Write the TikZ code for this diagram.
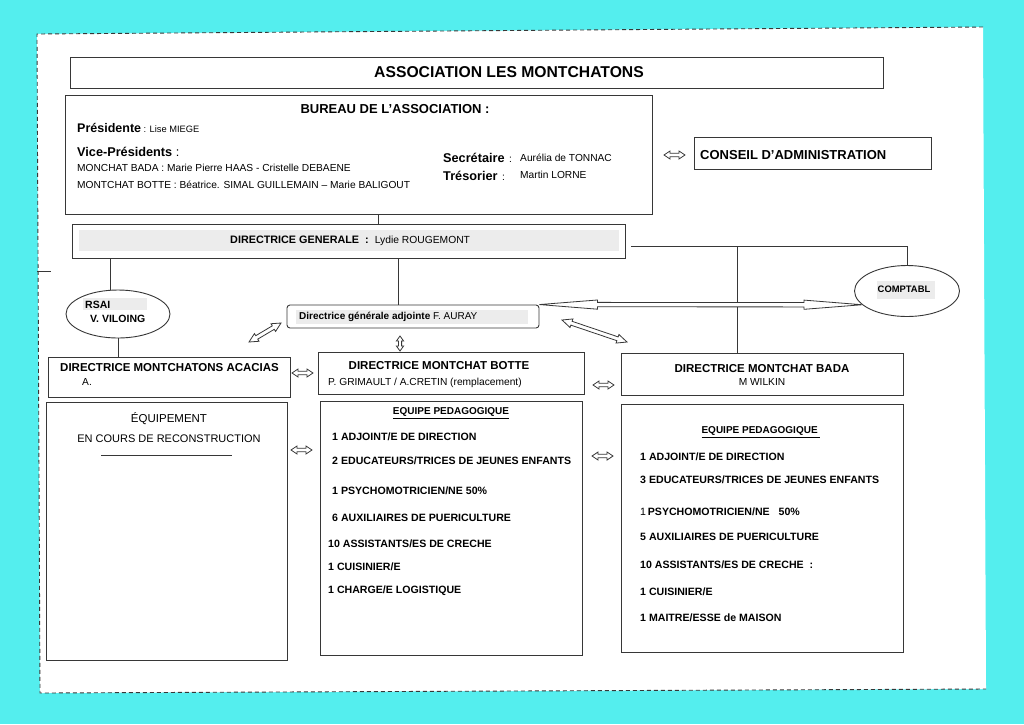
\documentclass[tikz,border=0pt]{standalone}
\usepackage{fontspec}
\setmainfont{Liberation Sans}
\usetikzlibrary{calc,shapes.geometric}
\definecolor{bgcyan}{RGB}{84,238,238}
\definecolor{linec}{RGB}{55,55,55}
\definecolor{hl}{RGB}{236,236,236}
\newcommand\fsz[1]{\fontsize{#1}{#1}\selectfont}
% hollow double block arrow: start, end, shaft half width, head half width, head length
\newcommand\hollowarrow[5]{%
  \path (#1) coordinate (ha-s) (#2) coordinate (ha-e);
  \path ($(ha-s)!#5!(ha-e)$) coordinate (ha-h1) ($(ha-e)!#5!(ha-s)$) coordinate (ha-h2);
  \draw[arrowline] (ha-s) -- ($(ha-h1)!#4!90:(ha-e)$) -- ($(ha-h1)!#3!90:(ha-e)$)
    -- ($(ha-h2)!#3!-90:(ha-s)$) -- ($(ha-h2)!#4!-90:(ha-s)$) -- (ha-e)
    -- ($(ha-h2)!#4!90:(ha-s)$) -- ($(ha-h2)!#3!90:(ha-s)$)
    -- ($(ha-h1)!#3!-90:(ha-e)$) -- ($(ha-h1)!#4!-90:(ha-e)$) -- cycle;}
\begin{document}
\begin{tikzpicture}[x=1pt,y=-1pt,
  box/.style={draw=linec, line width=0.9pt, rectangle, inner sep=0pt},
  oval/.style={draw=linec, line width=0.9pt, ellipse, inner sep=0pt},
  conn/.style={draw=linec, line width=0.9pt},
  arrowline/.style={draw=linec, line width=0.8pt, line join=miter, fill=white},
  paperdash/.style={draw=linec, line width=0.9pt, dash pattern=on 4pt off 3pt},
  txt/.style={inner sep=0pt, anchor=west, text=black},
  ctxt/.style={inner sep=0pt, anchor=center, text=black},
  ttl/.style={font=\bfseries\fsz{15.7}},
  hd/.style={font=\bfseries\fsz{13}},
  lbl/.style={font=\bfseries\fsz{11.5}},
  item/.style={font=\bfseries\fsz{10.6}},
  reg/.style={font=\fsz{10.2}},
]
% background and paper
\fill[bgcyan] (0,0) rectangle (1024,724);
\fill[white] (37,34) -- (983,27) -- (986,689) -- (40,693) -- cycle;
\draw[paperdash] (983,27) -- (37,34) -- (40,693) -- (986,689);
\draw[conn] (37,271) -- (51,271);

% ---------- boxes ----------
\node[box, minimum width=813pt, minimum height=31pt] (title) at (476.5,73) {};
\node[box, minimum width=587pt, minimum height=119pt] (bureau) at (358.5,154.5) {};
\node[box, minimum width=237pt, minimum height=32pt] (conseil) at (812.5,153) {};
\node[box, minimum width=553pt, minimum height=34pt] (dg) at (348.5,241) {};
\node[oval, minimum width=105pt, minimum height=51pt] (comptabl) at (907,291) {};
\node[oval, minimum width=104pt, minimum height=48pt] (rsai) at (118,314) {};
\node[box, rounded corners=3pt, minimum width=252pt, minimum height=23pt] (dga) at (413,316.5) {};
\node[box, minimum width=242pt, minimum height=40pt] (acacias) at (169,377) {};
\node[box, minimum width=266pt, minimum height=42pt] (botte) at (451,373) {};
\node[box, minimum width=282pt, minimum height=42pt] (bada) at (762,374) {};
\node[box, minimum width=241pt, minimum height=258pt] (equip) at (166.5,531) {};
\node[box, minimum width=262pt, minimum height=254pt] (eqbotte) at (451,528) {};
\node[box, minimum width=282pt, minimum height=248pt] (eqbada) at (762,528) {};

% grey highlight bands
\fill[hl] (79,230) rectangle (619,251);
\fill[hl] (83,298) rectangle (147,310);
\fill[hl] (877,281) rectangle (935,299);
\fill[hl] (296,310) rectangle (528,324);

% ---------- texts ----------
\node[ctxt, ttl] (t-title) at (509,72) {ASSOCIATION LES MONTCHATONS};
\node[ctxt, hd] (t-bureau) at (395,109) {BUREAU DE L’ASSOCIATION :};
\node[txt] (t-pres) at (77,128) {\bfseries\fsz{12.5}Présidente\fsz{9.3}\mdseries{} : Lise MIEGE};
\node[txt] (t-vice) at (77,152) {\bfseries\fsz{12.7}Vice-Présidents\mdseries{} :};
\node[txt, reg] (t-bada) at (77,168) {MONCHAT BADA : Marie Pierre HAAS - Cristelle DEBAENE};
\node[txt, reg] (t-botte) at (77,185) {MONTCHAT BOTTE : Béatrice. SIMAL GUILLEMAIN – Marie BALIGOUT};
\node[txt] (t-secr) at (443,158) {\bfseries\fsz{12.7}Secrétaire\fsz{10.2}\mdseries{} \,:};
\node[txt, reg] (t-secrn) at (520,158) {Aurélia de TONNAC};
\node[txt] (t-tres) at (443,176) {\bfseries\fsz{12.7}Trésorier\fsz{10.2}\mdseries{} \,:};
\node[txt, reg] (t-tresn) at (520,175) {Martin LORNE};
\node[txt, hd] (t-conseil) at (700,155) {CONSEIL D’ADMINISTRATION};
\node[txt] (t-dg) at (230,241) {\bfseries\fsz{10.8}DIRECTRICE GENERALE~~:~~\mdseries\fsz{10.3}Lydie ROUGEMONT};
\node[ctxt, font=\bfseries\fsz{9.4}] (t-comptabl) at (904,289) {COMPTABL};
\node[txt, font=\bfseries\fsz{10.5}] (t-rsai1) at (85,305) {RSAI};
\node[txt, font=\bfseries\fsz{10.5}] (t-rsai2) at (90,319) {V. VILOING};
\node[txt] (t-dga) at (299,317) {\bfseries\fsz{10}Directrice générale adjointe \mdseries F. AURAY};
\node[txt, lbl] (t-acacias) at (60,368) {DIRECTRICE MONTCHATONS ACACIAS};
\node[txt, reg] (t-acacias2) at (82,382) {A.};
\node[ctxt, lbl] (t-botte1) at (439,366) {DIRECTRICE MONTCHAT BOTTE};
\node[txt, reg] (t-botte2) at (328,383) {P. GRIMAULT / A.CRETIN (remplacement)};
\node[ctxt, lbl] (t-bada1) at (762,369) {DIRECTRICE MONTCHAT BADA};
\node[ctxt, reg] (t-bada2) at (762,382) {M WILKIN};
\node[ctxt, font=\fsz{11.5}] (t-eq1) at (169,419) {ÉQUIPEMENT};
\node[ctxt, font=\fsz{11}] (t-eq2) at (169,439) {EN COURS DE RECONSTRUCTION};
\draw[conn] (101,455) -- (232,455);

\node[ctxt, font=\bfseries\fsz{10}] (t-epb) at (451,413) {\underline{EQUIPE PEDAGOGIQUE}};
\node[txt, item] (b1) at (332,437) {1 ADJOINT/E DE DIRECTION};
\node[txt, item] (b2) at (332,461) {2 EDUCATEURS/TRICES DE JEUNES ENFANTS};
\node[txt, item] (b3) at (332,491) {1 PSYCHOMOTRICIEN/NE 50\%};
\node[txt, item] (b4) at (332,518) {6 AUXILIAIRES DE PUERICULTURE};
\node[txt, item] (b5) at (328,544) {10 ASSISTANTS/ES DE CRECHE};
\node[txt, item] (b6) at (328,567) {1 CUISINIER/E};
\node[txt, item] (b7) at (328,591) {1 CHARGE/E LOGISTIQUE};

\node[ctxt, font=\bfseries\fsz{10}] (t-epa) at (761,432) {\underline{EQUIPE PEDAGOGIQUE }};
\node[txt, item] (a1) at (640,457) {1 ADJOINT/E DE DIRECTION};
\node[txt, item] (a2) at (640,480) {3 EDUCATEURS/TRICES DE JEUNES ENFANTS};
\node[txt, item] (a3) at (640,512) {\mdseries 1\,\bfseries PSYCHOMOTRICIEN/NE \ \ 50\%};
\node[txt, item] (a4) at (640,537) {5 AUXILIAIRES DE PUERICULTURE};
\node[txt, item] (a5) at (640,565) {10 ASSISTANTS/ES DE CRECHE \ :};
\node[txt, item] (a6) at (640,592) {1 CUISINIER/E};
\node[txt, item] (a7) at (640,618) {1 MAITRE/ESSE de MAISON};

% ---------- connectors ----------
\coordinate (x378) at (378,0);
\coordinate (x110) at (110,0);
\coordinate (x398) at (398,0);
\coordinate (x737) at (737,0);
\coordinate (k1) at (631,246);
\draw[conn] (x378 |- bureau.south) -- (x378 |- dg.north);
\draw[conn] (k1) -| (comptabl.north);
\draw[conn] (x737 |- k1) -- (x737 |- bada.north);
\draw[conn] (x110 |- dg.south) -- (x110 |- rsai.north);
\draw[conn] (rsai.south) -- (rsai.south |- acacias.north);
\draw[conn] (x398 |- dg.south) -- (x398 |- dga.north);

% hollow arrows
\hollowarrow{dga.north east}{comptabl.197}{2.2pt}{4.6pt}{58pt}
\coordinate (d1s) at (249,342); \coordinate (d1e) at (281,323);
\hollowarrow{d1s}{d1e}{2pt}{4.5pt}{9pt}
\coordinate (d2s) at (562,320); \coordinate (d2e) at (627,342);
\hollowarrow{d2s}{d2e}{2pt}{4.5pt}{10pt}
\coordinate (v1s) at (400,336); \coordinate (v1e) at (400,351);
\hollowarrow{v1s}{v1e}{1.6pt}{3.6pt}{5pt}
\coordinate (h1s) at (664,155); \coordinate (h1e) at (685,155);
\hollowarrow{h1s}{h1e}{1.8pt}{4pt}{6pt}
\coordinate (h2s) at (292,373); \coordinate (h2e) at (313,373);
\hollowarrow{h2s}{h2e}{1.8pt}{4pt}{6pt}
\coordinate (h3s) at (593,385); \coordinate (h3e) at (614,385);
\hollowarrow{h3s}{h3e}{1.8pt}{4pt}{6pt}
\coordinate (h4s) at (291,450); \coordinate (h4e) at (312,450);
\hollowarrow{h4s}{h4e}{1.8pt}{4pt}{6pt}
\coordinate (h5s) at (592,456); \coordinate (h5e) at (613,456);
\hollowarrow{h5s}{h5e}{1.8pt}{4pt}{6pt}
\end{tikzpicture}
\end{document}
